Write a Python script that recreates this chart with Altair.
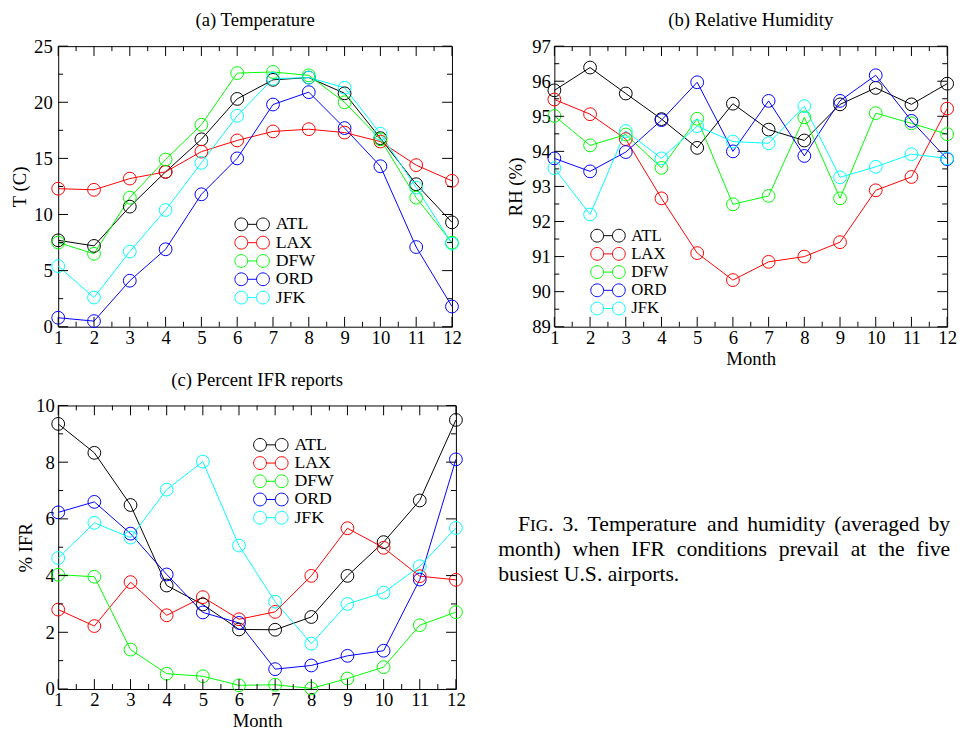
import altair as alt
import pandas as pd

FONT = "Liberation Serif"

months = list(range(1, 13))
minor_months = [m + 0.5 for m in range(1, 12)]
airports = ["ATL", "LAX", "DFW", "ORD", "JFK"]
colors = ["#000000", "#ff0000", "#00ff00", "#0000ff", "#00ffff"]

# (a) Temperature (C)
temp_atl = [7.7, 7.2, 10.7, 13.8, 16.7, 20.3, 22.0, 22.2, 20.8, 16.8, 12.7, 9.3]
temp_lax = [12.3, 12.2, 13.2, 13.8, 15.6, 16.6, 17.4, 17.6, 17.3, 16.5, 14.4, 13.0]
temp_dfw = [7.5, 6.5, 11.5, 14.9, 18.0, 22.6, 22.7, 22.4, 20.0, 16.7, 11.5, 7.5]
temp_ord = [0.8, 0.5, 4.1, 6.9, 11.8, 15.0, 19.8, 20.9, 17.7, 14.3, 7.1, 1.8]
temp_jfk = [5.4, 2.6, 6.7, 10.4, 14.6, 18.8, 22.1, 22.2, 21.3, 17.2, 12.4, 7.4]

# (b) Relative humidity (%)
rh_atl = [95.74, 96.39, 95.65, 94.92, 94.10, 95.36, 94.62, 94.31, 95.34, 95.81, 95.34, 95.93]
rh_lax = [95.48, 95.06, 94.35, 92.66, 91.10, 90.33, 90.85, 91.00, 91.41, 92.89, 93.27, 95.22]
rh_dfw = [95.01, 94.17, 94.48, 93.53, 94.93, 92.49, 92.73, 94.97, 92.66, 95.09, 94.80, 94.49]
rh_ord = [93.80, 93.43, 93.98, 94.89, 95.97, 94.00, 95.44, 93.87, 95.44, 96.17, 94.87, 93.78]
rh_jfk = [93.52, 92.20, 94.58, 93.80, 94.72, 94.28, 94.23, 95.29, 93.26, 93.56, 93.92, 93.80]

# (c) Percent IFR reports
ifr_atl = [9.35, 8.33, 6.49, 3.65, 2.98, 2.10, 2.09, 2.54, 3.99, 5.18, 6.65, 9.49]
ifr_lax = [2.80, 2.22, 3.77, 2.60, 3.24, 2.46, 2.72, 3.99, 5.67, 4.98, 3.98, 3.85]
ifr_dfw = [4.03, 3.96, 1.39, 0.54, 0.45, 0.13, 0.15, 0.02, 0.37, 0.77, 2.25, 2.71]
ifr_ord = [6.23, 6.60, 5.48, 4.04, 2.70, 2.33, 0.70, 0.83, 1.17, 1.35, 3.86, 8.10]
ifr_jfk = [4.62, 5.86, 5.34, 7.03, 8.02, 5.06, 3.08, 1.60, 3.00, 3.40, 4.33, 5.68]

# axis tick values
temp_major = [0, 5, 10, 15, 20, 25]
temp_minor = [2.5, 7.5, 12.5, 17.5, 22.5]
rh_major = [89, 90, 91, 92, 93, 94, 95, 96, 97]
rh_minor = [89.5, 90.5, 91.5, 92.5, 93.5, 94.5, 95.5, 96.5]
ifr_major = [0, 2, 4, 6, 8, 10]
ifr_minor = [1, 3, 5, 7, 9]

caption_lines = [
    "FIG. 3. Temperature and humidity (averaged by",
    "month) when IFR conditions prevail at the five",
    "busiest U.S. airports.",
]


def long_df(series):
    rows = []
    for ap, vals in zip(airports, series):
        for m, v in zip(months, vals):
            rows.append({"month": m, "value": v, "airport": ap})
    return pd.DataFrame(rows)


# legend glyph: circle - line - circle (unit radius, scaled by sqrt(size)/2)
LEG_PATH = ("M-1,0A1,1,0,1,0,1,0A1,1,0,1,0,-1,0"
            "M1,0L2.385,0"
            "M2.385,0A1,1,0,1,0,4.385,0A1,1,0,1,0,2.385,0")

MAJ, MIN = 10, 5


def panel(df, xtitle, ytitle, ydom, ymaj, ymin, w, h, leg, ylabpad, ytitlepad):
    xs = alt.Scale(domain=[1, 12], nice=False, zero=False)
    ys = alt.Scale(domain=ydom, nice=False, zero=False)
    common = dict(labelOverlap=False, labelFlush=False, ticks=False,
                  domain=False, grid=False, labelFont=FONT, labelFontSize=19,
                  labelColor="black", titleFont=FONT, titleFontSize=19,
                  titleFontWeight="normal", titleColor="black")
    if xtitle:
        xaxis = alt.Axis(values=months, title=xtitle, labelPadding=2,
                         titlePadding=2, **common)
    else:
        xaxis = alt.Axis(values=months, title=None, labelPadding=2, **common)
    yaxis = alt.Axis(values=ymaj, title=ytitle, labelPadding=ylabpad,
                     titlePadding=ytitlepad, **common)
    lx, ly, lfs, loff, rp = leg
    legend = alt.Legend(title=None, orient="none", legendX=lx, legendY=ly,
                        symbolType=LEG_PATH, symbolSize=169, symbolStrokeWidth=1,
                        symbolFillColor="transparent", labelFont=FONT,
                        labelFontSize=lfs, labelOffset=loff, rowPadding=rp,
                        padding=0)
    color = alt.Color("airport:N", sort=airports,
                      scale=alt.Scale(domain=airports, range=colors),
                      legend=legend)
    xe = alt.X("month:Q", scale=xs, axis=xaxis)
    ye = alt.Y("value:Q", scale=ys, axis=yaxis)
    base = alt.Chart(df)
    lines = base.mark_line(strokeWidth=1).encode(x=xe, y=ye, color=color)
    pts = base.mark_point(shape="circle", filled=False, size=169,
                          strokeWidth=1, opacity=1).encode(x=xe, y=ye, color=color)
    layers = [lines, pts]
    for vals, ln in ((months, MAJ), (minor_months, MIN)):
        c = alt.Chart(pd.DataFrame({"month": vals}))
        layers.append(c.mark_rule(color="black", strokeWidth=1).encode(
            x=xe, y=alt.value(h), y2=alt.value(h - ln)))
        layers.append(c.mark_rule(color="black", strokeWidth=1).encode(
            x=xe, y=alt.value(0), y2=alt.value(ln)))
    for vals, ln in ((ymaj, MAJ), (ymin, MIN)):
        c = alt.Chart(pd.DataFrame({"value": vals}))
        layers.append(c.mark_rule(color="black", strokeWidth=1).encode(
            y=ye, x=alt.value(0), x2=alt.value(ln)))
        layers.append(c.mark_rule(color="black", strokeWidth=1).encode(
            y=ye, x=alt.value(w - ln), x2=alt.value(w)))
    return alt.layer(*layers)


def ptitle(text):
    return alt.TitleParams(text, anchor="middle", offset=7, font=FONT,
                           fontSize=19, fontWeight="normal", color="black")


# ---- caption layout (Times metrics) ----
EM = {c: 0.5 for c in "abdghknopquvxy0123456789"}
EM.update({"a": .444, "c": .444, "e": .444, "f": .333, "i": .278, "j": .278,
           "l": .278, "m": .778, "r": .333, "s": .389, "t": .278, "w": .722,
           "z": .444, " ": .25, ".": .25, ",": .25, "(": .333, ")": .333,
           "F": .556, "I": .333, "G": .722, "R": .667, "U": .722, "S": .556,
           "T": .611})


def tw(s, size):
    return sum(EM.get(ch, 0.5) for ch in s) * size


CAP = 22.0
SC = 17.6
PLOT_C_X, PLOT_C_Y = 55, 403
line_geom = [(522, 961, 531, True), (502, 961, 556, True), (502, None, 581, False)]
cap_rows = []
for li, (text, (x0, x1, yb, just)) in enumerate(zip(caption_lines, line_geom)):
    words = text.split(" ")
    pieces = []
    for wi, wd in enumerate(words):
        if li == 0 and wi == 0:
            pieces.append([(wd[0], CAP), (wd[1:3], SC), (wd[3:], CAP)])
        else:
            pieces.append([(wd, CAP)])
    widths = [sum(tw(t, s) for t, s in p) for p in pieces]
    if just:
        gap = (x1 - x0 - sum(widths)) / (len(pieces) - 1)
    else:
        gap = tw(" ", CAP)
    x = x0
    for p, wdt in zip(pieces, widths):
        xx = x
        for t, s in p:
            if t:
                cap_rows.append({"t": t, "x": xx - PLOT_C_X, "y": yb - PLOT_C_Y, "s": s})
            xx += tw(t, s)
        x += wdt + gap
cap_df = pd.DataFrame(cap_rows)

caption = alt.Chart(cap_df).mark_text(align="left", baseline="alphabetic",
                                      font=FONT, color="black").encode(
    x=alt.X("x:Q", scale=None),
    y=alt.Y("y:Q", scale=None),
    text="t:N",
    size=alt.Size("s:Q", scale=None, legend=None))

pa = panel(long_df([temp_atl, temp_lax, temp_dfw, temp_ord, temp_jfk]),
           None, "T (C)", [0, 25], temp_major, temp_minor, 400, 285,
           (177, 172, 18, 26, 0.6), 6, 4).properties(
    width=400, height=285, title=ptitle("(a) Temperature"))

pb = panel(long_df([rh_atl, rh_lax, rh_dfw, rh_ord, rh_jfk]),
           "Month", "RH (%)", [89, 97], rh_major, rh_minor, 399, 285,
           (35, 184, 17, 26, 0.5), 4, 6).properties(
    width=399, height=285, title=ptitle("(b) Relative Humidity"))

pc_core = panel(long_df([ifr_atl, ifr_lax, ifr_dfw, ifr_ord, ifr_jfk]),
                "Month", "% IFR", [0, 10], ifr_major, ifr_minor, 404, 288,
                (196, 31, 18, 26, 0.5), 4, 0)
pc = alt.layer(pc_core, caption).resolve_scale(
    x="independent", y="independent").properties(
    width=404, height=288, title=ptitle("(c) Percent IFR reports"))

top = alt.hconcat(pa, pb, spacing=45).resolve_scale(
    color="independent").resolve_legend(color="independent")
chart = alt.vconcat(top, pc, spacing=1).resolve_scale(
    color="independent").resolve_legend(color="independent").properties(
    padding={"left": 2, "top": -3, "right": 0, "bottom": 0}
).configure_view(
    stroke="black", strokeWidth=1
).configure_axis(
    labelFont=FONT, labelFontSize=19, labelColor="black",
    titleFont=FONT, titleFontSize=19, titleFontWeight="normal", titleColor="black"
).configure_legend(
    labelFont=FONT, labelColor="black"
).configure_title(
    font=FONT, fontSize=19, fontWeight="normal", color="black"
)

chart.save("out.html", embed_options={"renderer": "svg", "actions": False})
